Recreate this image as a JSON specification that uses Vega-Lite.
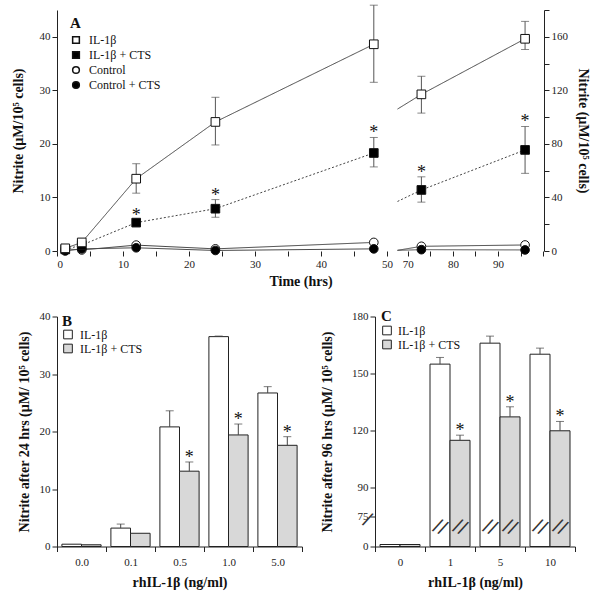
{
  "$schema": "https://vega.github.io/schema/vega-lite/v6.json",
  "padding": {"left": 11, "top": 4, "right": 5, "bottom": 5},
  "config": {
    "font": "Liberation Serif",
    "view": {"stroke": null},
    "axis": {"grid": false, "domainColor": "#222", "tickColor": "#222", "labelFont": "Liberation Serif", "labelFontSize": 11, "labelColor": "#222", "titleFont": "Liberation Serif", "titleFontSize": 14, "titleFontWeight": "bold", "titleColor": "#111", "tickSize": 5},
    "legend": {"titleFont": "Liberation Serif", "titleFontSize": 15, "titleFontWeight": "bold", "titleColor": "#111", "labelFont": "Liberation Serif", "labelFontSize": 12, "labelColor": "#111", "padding": 0, "rowPadding": 1, "titlePadding": 3, "labelOffset": 7}
  },
  "datasets": {
    "tc": [
      {"panel": "L", "series": "Control", "time": 1.25, "value": 0.4},
      {"panel": "L", "series": "Control", "time": 3.75, "value": 0.2},
      {"panel": "L", "series": "Control", "time": 12, "value": 1.1},
      {"panel": "L", "series": "Control", "time": 24, "value": 0.4},
      {"panel": "L", "series": "Control", "time": 48, "value": 1.6},
      {"panel": "L", "series": "Control + CTS", "time": 1.25, "value": 0.0},
      {"panel": "L", "series": "Control + CTS", "time": 3.75, "value": 0.4},
      {"panel": "L", "series": "Control + CTS", "time": 12, "value": 0.6},
      {"panel": "L", "series": "Control + CTS", "time": 24, "value": 0.1},
      {"panel": "L", "series": "Control + CTS", "time": 48, "value": 0.4},
      {"panel": "L", "series": "IL-1β + CTS", "time": 1.25, "value": 0.3},
      {"panel": "L", "series": "IL-1β + CTS", "time": 3.75, "value": 1.1},
      {"panel": "L", "series": "IL-1β + CTS", "time": 12, "value": 5.3, "lo": 4.8, "hi": 5.8, "sig": true},
      {"panel": "L", "series": "IL-1β + CTS", "time": 24, "value": 7.9, "lo": 6.3, "hi": 9.6, "sig": true},
      {"panel": "L", "series": "IL-1β + CTS", "time": 48, "value": 18.3, "lo": 15.7, "hi": 21.2, "sig": true},
      {"panel": "L", "series": "IL-1β", "time": 1.25, "value": 0.5},
      {"panel": "L", "series": "IL-1β", "time": 3.75, "value": 1.6},
      {"panel": "L", "series": "IL-1β", "time": 12, "value": 13.5, "lo": 10.8, "hi": 16.3},
      {"panel": "L", "series": "IL-1β", "time": 24, "value": 24.1, "lo": 19.8, "hi": 28.7},
      {"panel": "L", "series": "IL-1β", "time": 48, "value": 38.6, "lo": 31.5, "hi": 45.9},
      {"panel": "R", "series": "Control", "time": 67.7, "value": 0.5},
      {"panel": "R", "series": "Control", "time": 73, "value": 3.5},
      {"panel": "R", "series": "Control", "time": 96, "value": 4.5},
      {"panel": "R", "series": "Control + CTS", "time": 67.7, "value": 0.5},
      {"panel": "R", "series": "Control + CTS", "time": 73, "value": 1},
      {"panel": "R", "series": "Control + CTS", "time": 96, "value": 0.8},
      {"panel": "R", "series": "IL-1β + CTS", "time": 67.7, "value": 37},
      {"panel": "R", "series": "IL-1β + CTS", "time": 73, "value": 45.6, "lo": 36.5, "hi": 55.4, "sig": true},
      {"panel": "R", "series": "IL-1β + CTS", "time": 96, "value": 75.5, "lo": 58, "hi": 93, "sig": true},
      {"panel": "R", "series": "IL-1β", "time": 67.7, "value": 106},
      {"panel": "R", "series": "IL-1β", "time": 73, "value": 117, "lo": 103, "hi": 130.5},
      {"panel": "R", "series": "IL-1β", "time": 96, "value": 158.5, "lo": 150.5, "hi": 171.5}
    ],
    "b24": [
      {"dose": "0.0", "treat": "IL-1β", "value": 0.4},
      {"dose": "0.0", "treat": "IL-1β + CTS", "value": 0.3},
      {"dose": "0.1", "treat": "IL-1β", "value": 3.2, "upper": 3.9},
      {"dose": "0.1", "treat": "IL-1β + CTS", "value": 2.3},
      {"dose": "0.5", "treat": "IL-1β", "value": 20.8, "upper": 23.6},
      {"dose": "0.5", "treat": "IL-1β + CTS", "value": 13.1, "upper": 14.7, "sig": true},
      {"dose": "1.0", "treat": "IL-1β", "value": 36.5, "upper": 36.6},
      {"dose": "1.0", "treat": "IL-1β + CTS", "value": 19.4, "upper": 21.3, "sig": true},
      {"dose": "5.0", "treat": "IL-1β", "value": 26.7, "upper": 27.8},
      {"dose": "5.0", "treat": "IL-1β + CTS", "value": 17.6, "upper": 19.1, "sig": true}
    ],
    "c96": [
      {"dose": "0", "treat": "IL-1β", "value": 5},
      {"dose": "0", "treat": "IL-1β + CTS", "value": 5},
      {"dose": "1", "treat": "IL-1β", "value": 155, "upper": 158.5},
      {"dose": "1", "treat": "IL-1β + CTS", "value": 115, "upper": 117.7, "sig": true},
      {"dose": "5", "treat": "IL-1β", "value": 166, "upper": 169.7},
      {"dose": "5", "treat": "IL-1β + CTS", "value": 127.3, "upper": 132.6, "sig": true},
      {"dose": "10", "treat": "IL-1β", "value": 160.2, "upper": 163.4},
      {"dose": "10", "treat": "IL-1β + CTS", "value": 120, "upper": 124.9, "sig": true}
    ]
  },
  "bounds": "flush",
  "spacing": 65.5,
  "resolve": {"scale": {"fill": "independent", "shape": "independent", "strokeDash": "independent", "x": "independent", "y": "independent"}, "legend": {"fill": "independent", "shape": "independent"}},
  "vconcat": [
    {
      "width": 487,
      "height": 241,
      "data": {"name": "tc"},
      "encoding": {
        "x": {"field": "time", "type": "quantitative",
          "scale": {"domain": [0, 50, 67.7, 100.2], "range": [0, 330, 340.5, 487], "nice": false, "zero": false},
          "axis": {"values": [0, 5, 10, 15, 20, 25, 30, 35, 40, 45, 50, 70, 75, 80, 85, 90, 95, 100], "labelExpr": "(datum.value % 10 === 0 && datum.value < 100) ? datum.label : ''", "title": "Time (hrs)", "titlePadding": 5, "domain": false}}
      },
      "resolve": {"scale": {"y": "independent"}, "legend": {"fill": "independent", "shape": "independent"}},
      "layer": [
        {
          "transform": [{"filter": "datum.panel === 'L'"}],
          "encoding": {
            "y": {"field": "value", "type": "quantitative", "scale": {"domain": [0, 45], "nice": false},
              "axis": {"values": [0, 10, 20, 30, 40], "title": "Nitrite (µM/10⁵ cells)", "titlePadding": 14}}
          },
          "layer": [
            {
              "data": {"values": [{}]},
              "mark": {"type": "rule", "color": "#222"},
              "encoding": {"x": {"datum": 0}, "x2": {"datum": 50}, "y": {"datum": 0}}
            },
            {
              "data": {"values": [{}]},
              "mark": {"type": "rule", "color": "#222"},
              "encoding": {"x": {"datum": 67.7}, "x2": {"datum": 100.2}, "y": {"datum": 0}}
            },
            {
              "mark": {"type": "line", "color": "#444", "strokeWidth": 1},
              "encoding": {"strokeDash": {"field": "series", "type": "nominal", "scale": {"domain": ["IL-1β", "IL-1β + CTS", "Control", "Control + CTS"], "range": [[1, 0], [2, 2], [1, 0], [1, 0]]}, "legend": null}}
            },
            {
              "transform": [{"filter": "isValid(datum.lo)"}],
              "mark": {"type": "errorbar", "ticks": {"size": 8, "color": "#555"}, "rule": {"color": "#555"}},
              "encoding": {"y": {"field": "lo", "type": "quantitative"}, "y2": {"field": "hi"}}
            },
            {
              "mark": {"type": "point", "filled": true, "stroke": "#111", "strokeWidth": 1, "opacity": 1, "size": 75},
              "encoding": {
                "shape": {"field": "series", "type": "nominal", "scale": {"domain": ["IL-1β", "IL-1β + CTS", "Control", "Control + CTS"], "range": ["square", "square", "circle", "circle"]},
                  "legend": {"title": "A", "orient": "none", "legendX": 13, "legendY": 6, "symbolSize": 45, "encode": {"symbols": {"update": {"stroke": {"value": "#111"}, "strokeWidth": {"value": 1}}}}}},
                "fill": {"field": "series", "type": "nominal", "scale": {"domain": ["IL-1β", "IL-1β + CTS", "Control", "Control + CTS"], "range": ["white", "black", "white", "black"]},
                  "legend": {"title": "A", "orient": "none", "legendX": 13, "legendY": 6, "symbolSize": 45, "encode": {"symbols": {"update": {"stroke": {"value": "#111"}, "strokeWidth": {"value": 1}}}}}}
              }
            },
            {
              "transform": [{"filter": "datum.sig"}],
              "mark": {"type": "text", "text": "*", "fontSize": 18, "baseline": "middle", "dy": -4, "color": "#111"},
              "encoding": {"y": {"field": "hi", "type": "quantitative"}}
            }
          ]
        },
        {
          "transform": [{"filter": "datum.panel === 'R'"}],
          "encoding": {
            "y": {"field": "value", "type": "quantitative", "scale": {"domain": [0, 180], "nice": false},
              "axis": {"orient": "right", "values": [0, 20, 40, 60, 80, 100, 120, 140, 160, 180], "labelExpr": "datum.value % 40 === 0 ? datum.label : ''", "title": "Nitrite (µM/10⁵ cells)", "titlePadding": 8}}
          },
          "layer": [
            {
              "mark": {"type": "line", "color": "#444", "strokeWidth": 1},
              "encoding": {"strokeDash": {"field": "series", "type": "nominal", "scale": {"domain": ["IL-1β", "IL-1β + CTS", "Control", "Control + CTS"], "range": [[1, 0], [2, 2], [1, 0], [1, 0]]}, "legend": null}}
            },
            {
              "transform": [{"filter": "isValid(datum.lo)"}],
              "mark": {"type": "errorbar", "ticks": {"size": 8, "color": "#555"}, "rule": {"color": "#555"}},
              "encoding": {"y": {"field": "lo", "type": "quantitative"}, "y2": {"field": "hi"}}
            },
            {
              "transform": [{"filter": "datum.time > 68"}],
              "mark": {"type": "point", "filled": true, "stroke": "#111", "strokeWidth": 1, "opacity": 1, "size": 75},
              "encoding": {
                "shape": {"field": "series", "type": "nominal", "scale": {"domain": ["IL-1β", "IL-1β + CTS", "Control", "Control + CTS"], "range": ["square", "square", "circle", "circle"]}, "legend": null},
                "fill": {"field": "series", "type": "nominal", "scale": {"domain": ["IL-1β", "IL-1β + CTS", "Control", "Control + CTS"], "range": ["white", "black", "white", "black"]}, "legend": null}
              }
            },
            {
              "transform": [{"filter": "datum.sig"}],
              "mark": {"type": "text", "text": "*", "fontSize": 18, "baseline": "middle", "dy": -4, "color": "#111"},
              "encoding": {"y": {"field": "hi", "type": "quantitative"}}
            }
          ]
        }
      ]
    },
    {
      "bounds": "flush",
      "spacing": 73,
      "resolve": {"scale": {"x": "independent", "y": "independent", "fill": "independent", "xOffset": "independent"}, "legend": {"fill": "independent"}},
      "hconcat": [
        {
          "width": 245,
          "height": 230,
          "data": {"name": "b24"},
          "encoding": {
            "x": {"field": "dose", "type": "nominal", "sort": null, "scale": {"paddingInner": 0, "paddingOuter": 0},
              "axis": {"title": "rhIL-1β  (ng/ml)", "labelAngle": 0, "tickBand": "extent", "titlePadding": 8, "labelPadding": 5}},
            "xOffset": {"field": "treat", "type": "nominal", "sort": null, "scale": {"paddingOuter": 0.25, "paddingInner": 0}}
          },
          "layer": [
            {
              "mark": {"type": "bar", "stroke": "#222", "strokeWidth": 1},
              "encoding": {
                "y": {"field": "value", "type": "quantitative", "scale": {"domain": [0, 40], "nice": false},
                  "axis": {"values": [0, 10, 20, 30, 40], "title": "Nitrite after 24 hrs (µM/ 10⁵ cells)", "titlePadding": 8}},
                "fill": {"field": "treat", "type": "nominal", "sort": null, "scale": {"domain": ["IL-1β", "IL-1β + CTS"], "range": ["white", "#d8d8d8"]},
                  "legend": {"title": "B", "orient": "none", "legendX": 5, "legendY": -3, "titlePadding": 0, "rowPadding": 0, "labelOffset": 6, "symbolType": "square", "symbolSize": 75, "symbolStrokeColor": "#222", "symbolStrokeWidth": 1}}
              }
            },
            {
              "transform": [{"filter": "isValid(datum.upper)"}],
              "mark": {"type": "rule", "color": "#444"},
              "encoding": {"y": {"field": "value", "type": "quantitative"}, "y2": {"field": "upper"}}
            },
            {
              "transform": [{"filter": "isValid(datum.upper)"}],
              "mark": {"type": "tick", "color": "#444", "size": 8, "thickness": 1},
              "encoding": {"y": {"field": "upper", "type": "quantitative"}}
            },
            {
              "transform": [{"filter": "datum.sig"}],
              "mark": {"type": "text", "text": "*", "fontSize": 18, "baseline": "middle", "dy": -4, "color": "#111"},
              "encoding": {"y": {"field": "upper", "type": "quantitative"}}
            }
          ]
        },
        {
          "width": 200,
          "height": 230,
          "data": {"name": "c96"},
          "encoding": {
            "x": {"field": "dose", "type": "nominal", "sort": null, "scale": {"paddingInner": 0, "paddingOuter": 0},
              "axis": {"title": "rhIL-1β  (ng/ml)", "labelAngle": 0, "tickBand": "extent", "titlePadding": 8, "labelPadding": 5}},
            "xOffset": {"field": "treat", "type": "nominal", "sort": null, "scale": {"paddingOuter": 0.25, "paddingInner": 0}}
          },
          "layer": [
            {
              "mark": {"type": "bar", "stroke": "#222", "strokeWidth": 1},
              "encoding": {
                "y": {"field": "value", "type": "quantitative", "scale": {"domain": [0, 75, 180], "range": [230, 200, 0], "nice": false, "zero": false},
                  "axis": {"values": [0, 75, 90, 120, 150, 180], "title": "Nitrite after 96 hrs (µM/ 10⁵ cells)", "titlePadding": 17}},
                "fill": {"field": "treat", "type": "nominal", "sort": null, "scale": {"domain": ["IL-1β", "IL-1β + CTS"], "range": ["white", "#d8d8d8"]},
                  "legend": {"title": "C", "orient": "none", "legendX": 6, "legendY": -8, "titlePadding": 1, "rowPadding": 0, "labelOffset": 5, "symbolType": "square", "symbolSize": 75, "symbolStrokeColor": "#222", "symbolStrokeWidth": 1}}
              }
            },
            {
              "transform": [{"filter": "datum.dose !== '0'"}],
              "mark": {"type": "text", "text": "//", "fontSize": 18, "angle": 25, "font": "DejaVu Sans", "color": "#333"},
              "encoding": {"y": {"datum": 48}}
            },
            {
              "transform": [{"filter": "datum.dose === '0' && datum.treat === 'IL-1β'"}],
              "mark": {"type": "text", "text": "/", "fontSize": 18, "angle": 25, "dx": -25, "font": "DejaVu Sans", "color": "#333"},
              "encoding": {"y": {"datum": 40}}
            },
            {
              "transform": [{"filter": "isValid(datum.upper)"}],
              "mark": {"type": "rule", "color": "#444"},
              "encoding": {"y": {"field": "value", "type": "quantitative"}, "y2": {"field": "upper"}}
            },
            {
              "transform": [{"filter": "isValid(datum.upper)"}],
              "mark": {"type": "tick", "color": "#444", "size": 8, "thickness": 1},
              "encoding": {"y": {"field": "upper", "type": "quantitative"}}
            },
            {
              "transform": [{"filter": "datum.sig"}],
              "mark": {"type": "text", "text": "*", "fontSize": 18, "baseline": "middle", "dy": -4, "color": "#111"},
              "encoding": {"y": {"field": "upper", "type": "quantitative"}}
            }
          ]
        }
      ]
    }
  ]
}
